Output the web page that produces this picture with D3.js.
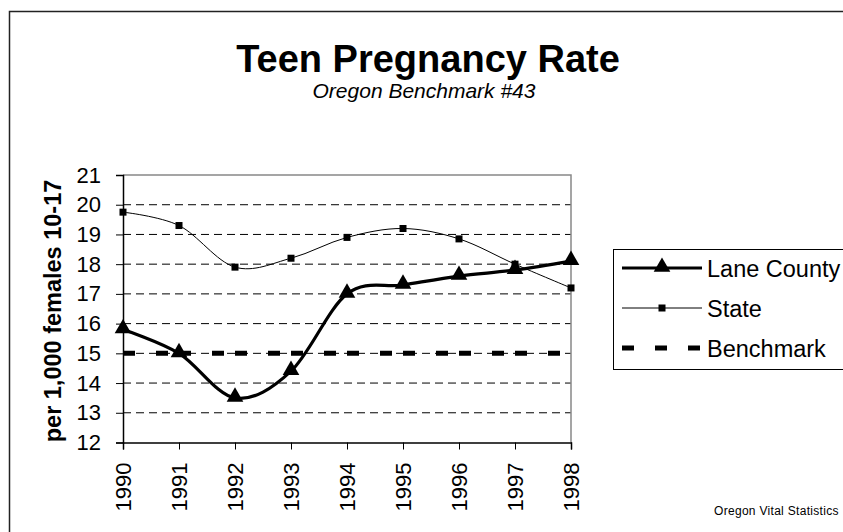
<!DOCTYPE html>
<html>
<head>
<meta charset="utf-8">
<script src="https://cdn.jsdelivr.net/npm/d3@7"></script>
<style>
  body { margin: 0; background: #fff; }
  svg { display: block; font-family: "Liberation Sans", Arial, sans-serif; }
</style>
</head>
<body>
<svg id="chart" width="843" height="532"></svg>
<script>
// ---- data ----
var years = [1990, 1991, 1992, 1993, 1994, 1995, 1996, 1997, 1998];
var laneCounty = [15.8, 15.0, 13.5, 14.4, 17.0, 17.3, 17.6, 17.8, 18.1];
var stateRate = [19.75, 19.3, 17.9, 18.2, 18.9, 19.2, 18.85, 18.0, 17.2];
var benchmark = [15, 15, 15, 15, 15, 15, 15, 15, 15];
var yTicks = [12, 13, 14, 15, 16, 17, 18, 19, 20, 21];
var gridVals = [13, 14, 15, 16, 17, 18, 19, 20];

var svg = d3.select('#chart');

// outer chart border (runs off right / bottom edge)
svg.append('rect')
  .attr('x', 9.5).attr('y', 11.5)
  .attr('width', 900).attr('height', 600)
  .attr('fill', 'none').attr('stroke', '#222').attr('stroke-width', 1.5);

var x = d3.scaleLinear().domain([1990, 1998]).range([123, 571]);
var y = d3.scaleLinear().domain([12, 21]).range([442.5, 175]);

// title
svg.append('text')
  .attr('x', 428).attr('y', 72)
  .attr('text-anchor', 'middle')
  .attr('font-weight', 'bold').attr('font-size', 38)
  .text('Teen Pregnancy Rate');
svg.append('text')
  .attr('x', 424).attr('y', 98)
  .attr('text-anchor', 'middle')
  .attr('font-style', 'italic').attr('font-size', 21)
  .text('Oregon Benchmark  #43');

// gridlines
svg.append('g').selectAll('line').data(gridVals).enter().append('line')
  .attr('x1', x(1990)).attr('x2', x(1998))
  .attr('y1', function(d) { return y(d); }).attr('y2', function(d) { return y(d); })
  .attr('stroke', '#000').attr('stroke-width', 1)
  .attr('stroke-dasharray', '8,5');

// plot frame top / right (grey)
svg.append('path')
  .attr('d', 'M' + x(1990) + ',' + y(21) + 'H' + x(1998) + 'V' + y(12))
  .attr('fill', 'none').attr('stroke', '#888').attr('stroke-width', 1.5);

// axes
var yAxis = d3.axisLeft(y).tickValues(yTicks).tickSize(7).tickPadding(15).tickFormat(d3.format('d'));
var gy = svg.append('g').attr('transform', 'translate(' + x(1990) + ',0)').call(yAxis);
gy.select('.domain').attr('stroke', '#000').attr('stroke-width', 1.5);
gy.selectAll('.tick line').attr('stroke', '#000');
gy.selectAll('.tick text').attr('font-size', 22).attr('font-family', '"Liberation Sans", Arial, sans-serif').attr('fill', '#000');

var xAxis = d3.axisBottom(x).tickValues(years).tickSize(7).tickFormat(d3.format('d'));
var gx = svg.append('g').attr('transform', 'translate(0,' + y(12) + ')').call(xAxis);
gx.select('.domain').attr('stroke', '#000').attr('stroke-width', 1.5);
gx.selectAll('.tick line').attr('stroke', '#000');
gx.selectAll('.tick text')
  .attr('font-size', 22).attr('font-family', '"Liberation Sans", Arial, sans-serif').attr('fill', '#000')
  .attr('text-anchor', 'end').attr('dy', '0.35em')
  .attr('transform', 'translate(0,20) rotate(-90)')
  .attr('x', 0).attr('y', 0);

// y axis title
svg.append('text')
  .attr('transform', 'translate(61,311) rotate(-90)')
  .attr('text-anchor', 'middle')
  .attr('font-weight', 'bold').attr('font-size', 23.5)
  .text('per 1,000 females 10-17');

// benchmark: per-segment dashes
var benchSeg = d3.pairs(years.map(function(yr, i) { return [yr, benchmark[i]]; }));
svg.append('g').selectAll('line').data(benchSeg).enter().append('line')
  .attr('x1', function(d) { return x(d[0][0]); }).attr('y1', function(d) { return y(d[0][1]); })
  .attr('x2', function(d) { return x(d[1][0]); }).attr('y2', function(d) { return y(d[1][1]); })
  .attr('stroke', '#000').attr('stroke-width', 5)
  .attr('stroke-dasharray', '12,21');

var line = d3.line()
  .x(function(d) { return x(d[0]); })
  .y(function(d) { return y(d[1]); })
  .curve(d3.curveCardinal.tension(0));

var statePts = years.map(function(yr, i) { return [yr, stateRate[i]]; });
var lanePts = years.map(function(yr, i) { return [yr, laneCounty[i]]; });

// state
svg.append('path').datum(statePts).attr('d', line)
  .attr('fill', 'none').attr('stroke', '#000').attr('stroke-width', 1);
svg.append('g').selectAll('rect').data(statePts).enter().append('rect')
  .attr('x', function(d) { return x(d[0]) - 3.5; })
  .attr('y', function(d) { return y(d[1]) - 3.5; })
  .attr('width', 7).attr('height', 7).attr('fill', '#000');

// lane county
svg.append('path').datum(lanePts).attr('d', line)
  .attr('fill', 'none').attr('stroke', '#000').attr('stroke-width', 3.2);
var tri = d3.symbol().type(d3.symbolTriangle).size(120);
svg.append('g').selectAll('path').data(lanePts).enter().append('path')
  .attr('d', tri)
  .attr('transform', function(d) { return 'translate(' + x(d[0]) + ',' + (y(d[1]) - 1) + ')'; })
  .attr('fill', '#000');

// legend
var lg = svg.append('g');
lg.append('rect')
  .attr('x', 613.5).attr('y', 249.5).attr('width', 300).attr('height', 120)
  .attr('fill', '#fff').attr('stroke', '#000').attr('stroke-width', 1);
var legendItems = ['Lane County', 'State', 'Benchmark'];
var legY = [268, 308, 348];
legendItems.forEach(function(name, i) {
  var ly = legY[i];
  if (i === 0) {
    lg.append('line').attr('x1', 622).attr('x2', 702).attr('y1', ly).attr('y2', ly)
      .attr('stroke', '#000').attr('stroke-width', 3.2);
    lg.append('path').attr('d', tri).attr('transform', 'translate(662,' + (ly - 1) + ')').attr('fill', '#000');
  } else if (i === 1) {
    lg.append('line').attr('x1', 622).attr('x2', 702).attr('y1', ly).attr('y2', ly)
      .attr('stroke', '#000').attr('stroke-width', 1);
    lg.append('rect').attr('x', 658.5).attr('y', ly - 3.5).attr('width', 7).attr('height', 7).attr('fill', '#000');
  } else {
    lg.append('line').attr('x1', 622).attr('x2', 702).attr('y1', ly).attr('y2', ly)
      .attr('stroke', '#000').attr('stroke-width', 5).attr('stroke-dasharray', '12,21');
  }
  lg.append('text').attr('x', 707).attr('y', ly + 8.5)
    .attr('font-size', 23.5).text(name);
});

// source note
svg.append('text')
  .attr('x', 714).attr('y', 515)
  .attr('font-size', 12).attr('letter-spacing', '0.3')
  .text('Oregon Vital Statistics');
</script>
</body>
</html>
